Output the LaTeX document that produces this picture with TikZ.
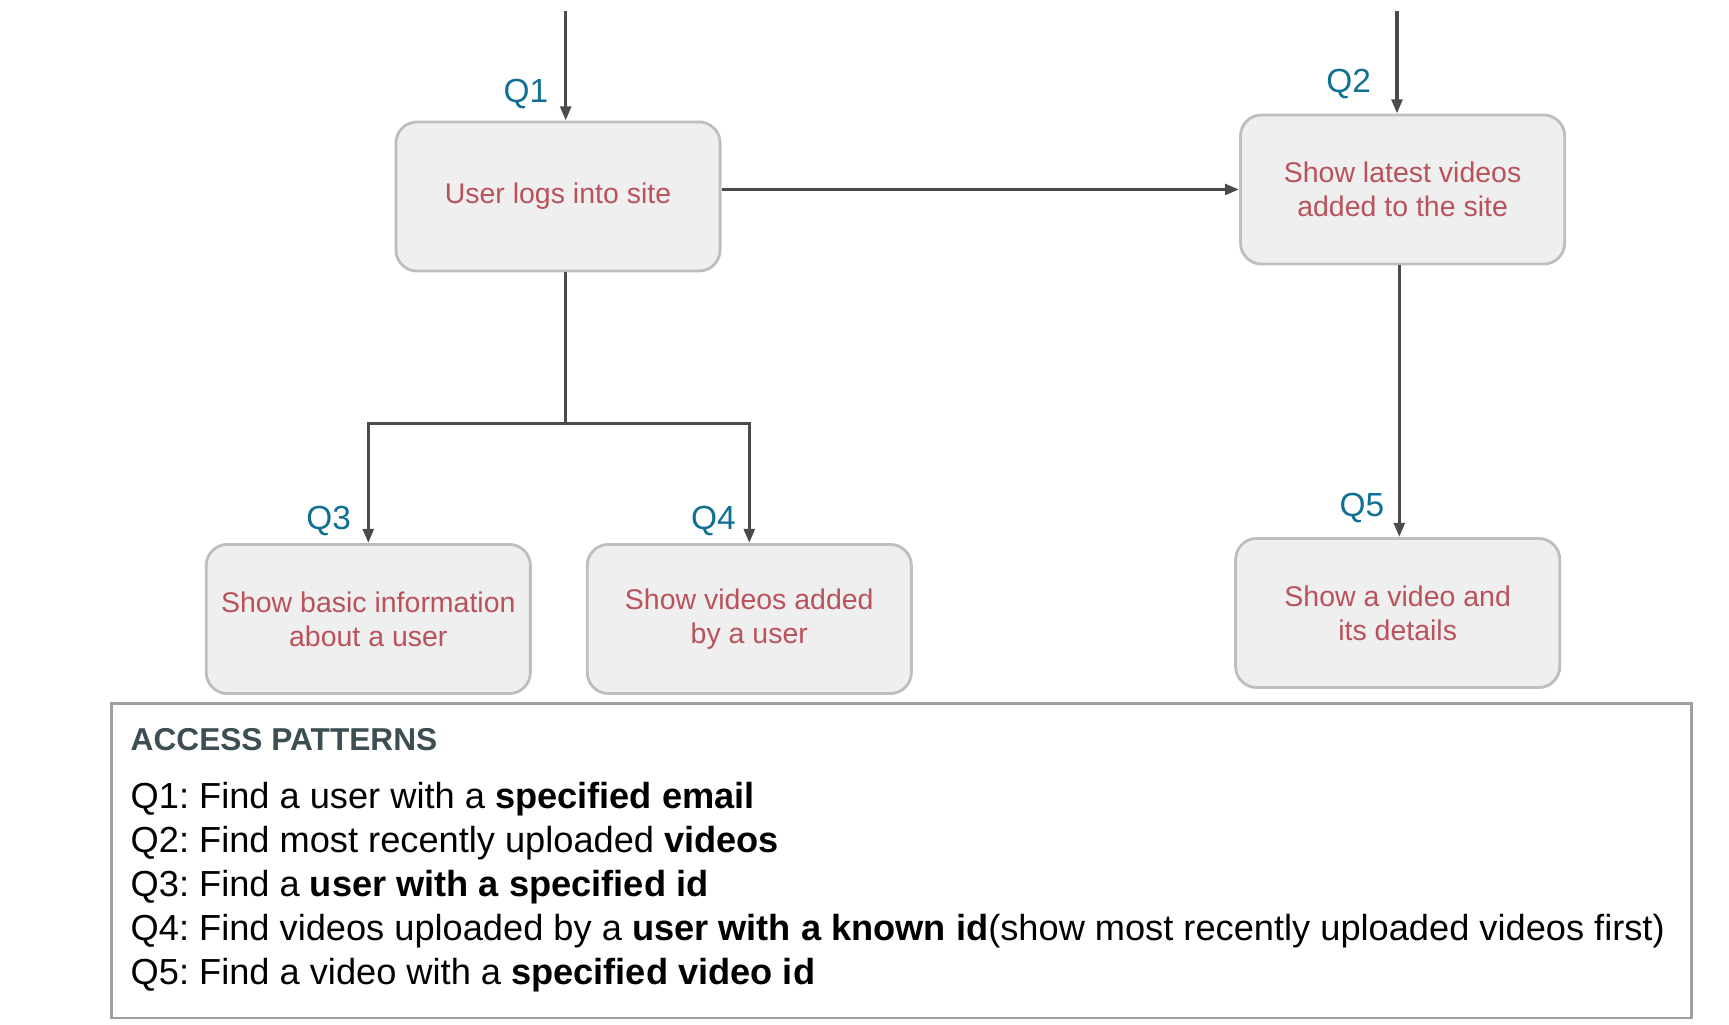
\documentclass[tikz,border=0pt]{standalone}
\usepackage{fontspec}
\setmainfont{Liberation Sans}
\usepackage{xcolor}
\usetikzlibrary{arrows.meta,calc}
\definecolor{qblue}{RGB}{15,112,148}
\definecolor{boxtext}{RGB}{186,82,92}
\definecolor{boxfill}{RGB}{239,239,239}
\definecolor{boxline}{RGB}{190,190,190}
\definecolor{wire}{RGB}{75,75,75}
\definecolor{titlegray}{RGB}{60,78,84}
\frenchspacing

\begin{document}
\begin{tikzpicture}[
    x=0.01cm, y=-0.01cm,
    screen/.style={rectangle, draw=boxline, fill=boxfill, line width=0.8pt, rounded corners=6pt, minimum width=3.24cm, minimum height=1.49cm, align=center, text=boxtext, font=\fontsize{8.1}{9.7}\selectfont},
    qlabel/.style={font=\fontsize{9.5}{11}\selectfont, text=qblue, inner sep=0pt},
    pattern/.style={font=\fontsize{10.3}{12.5}\selectfont, inner sep=0pt, anchor=base west},
    arrow/.style={-{Triangle[length=4pt,width=3pt]}, draw=wire, line width=0.95pt},
    link/.style={draw=wire, line width=0.95pt}
]
    \useasboundingbox (0,0) rectangle (1729,1025);

    % Screens
    \node[screen] (login) at (558,196.5) {User logs into site};
    \node[screen] (latest) at (1402.6,189.5) {Show latest videos\\added to the site};
    \node[screen] (basic) at (368.3,619) {Show basic information\\about a user};
    \node[screen] (uservids) at (749.3,619) {Show videos added\\by a user};
    \node[screen] (detail) at (1397.7,613) {Show a video and\\its details};

    % Query labels
    \node[qlabel] (q1) at (526,93.6) {Q1};
    \node[qlabel] (q2) at (1348.6,83.7) {Q2};
    \node[qlabel] (q3) at (328.6,521.5) {Q3};
    \node[qlabel] (q4) at (713.4,521.5) {Q4};
    \node[qlabel] (q5) at (1361.8,508.2) {Q5};

    % Flow
    \coordinate (in1) at (565.7,11);
    \coordinate (in2) at (1397,11);
    \coordinate (split) at (565.7,423.3);
    \coordinate (down) at (1399.3,400);
    \draw[arrow] (in1) -- (in1 |- login.north);
    \draw[arrow] (in2) -- (in2 |- latest.north);
    \draw[arrow] (login.east |- latest.west) -- (latest.west);
    \draw[link] (split |- login.south) -- (split);
    \draw[arrow] (split) -| (basic.north);
    \draw[arrow] (split) -| (uservids.north);
    \draw[arrow] (down |- latest.south) -- (down |- detail.north);

    % Access patterns
    \node[draw=gray!75, line width=0.7pt, anchor=north west, inner sep=0pt, minimum width=15.79cm, minimum height=3.143cm] (patterns) at (110.3,702.4) {};
    \node[pattern, font=\fontsize{9}{11}\selectfont\bfseries, text=titlegray] (aptitle) at (130,751) {ACCESS PATTERNS};
    \foreach \txt [count=\k] in {
        {Q1: Find a user with a \textbf{specified email}},
        {Q2: Find most recently uploaded \textbf{videos}},
        {Q3: Find a \textbf{user with a specified id}},
        {Q4: Find videos uploaded by a \textbf{user with a known id}(show most recently uploaded videos first)},
        {Q5: Find a video with a \textbf{specified video id}}
    }{
        \node[pattern] (ap\k) at (130,{809+44*(\k-1)}) {\txt};
    }
\end{tikzpicture}
\end{document}
